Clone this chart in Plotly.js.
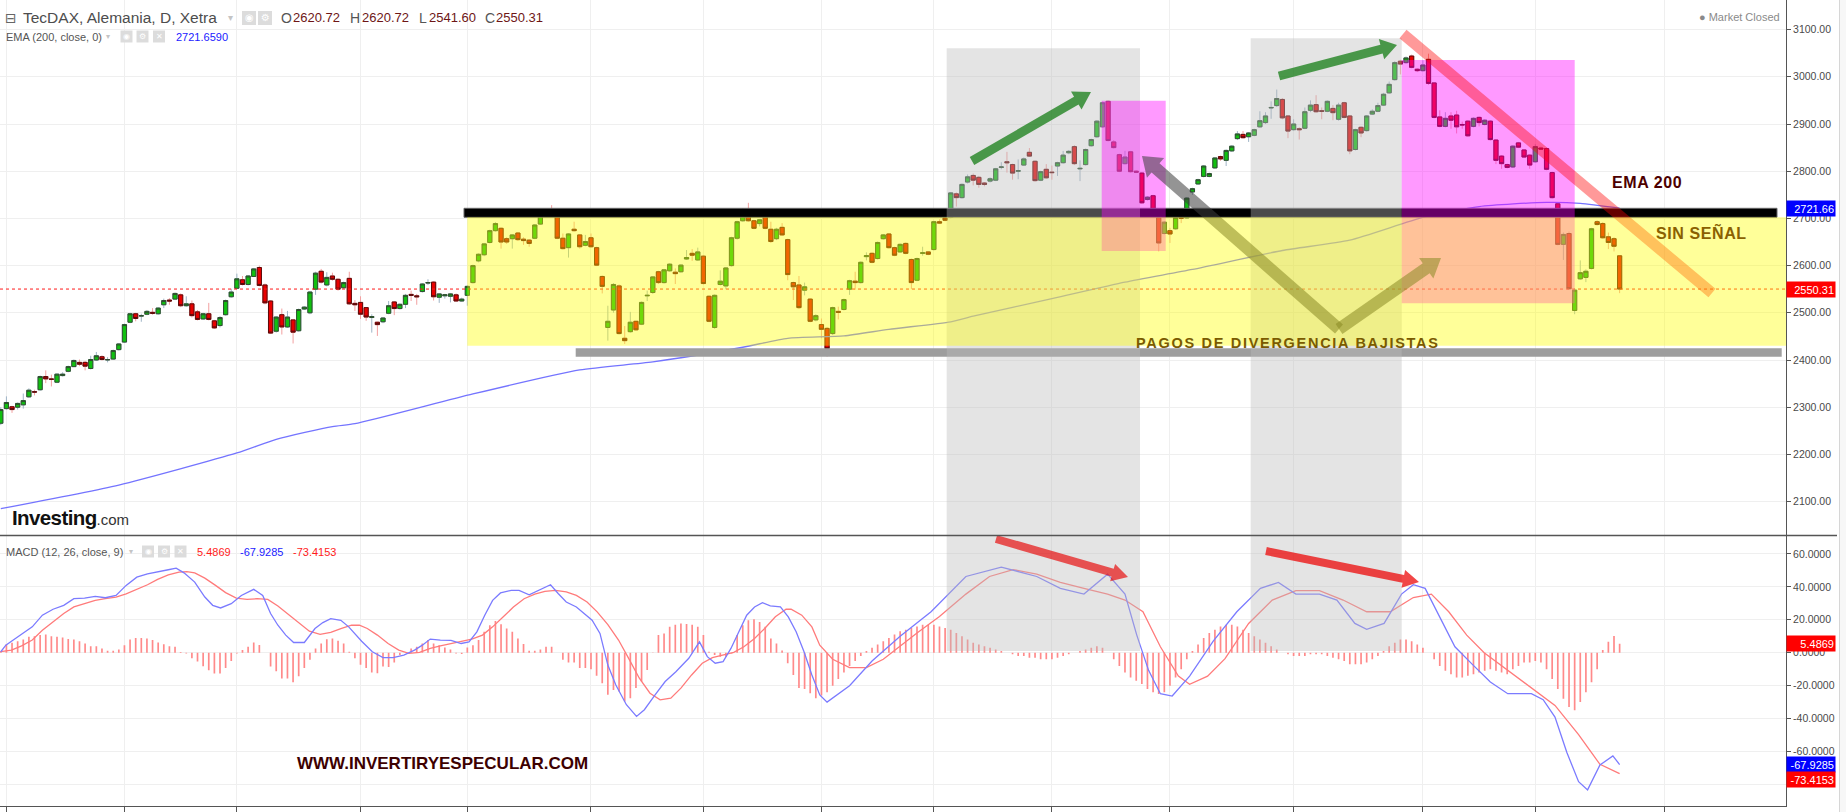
<!DOCTYPE html>
<html><head><meta charset="utf-8">
<script src="https://cdn.plot.ly/plotly-3.0.1.min.js"></script>
<style>html,body{margin:0;padding:0;background:#fff;overflow:hidden}#chart{width:1846px;height:812px}</style>
</head><body><div id="chart"></div>
<script>
// ---------------- DATA ----------------
const open = [2266,2297,2301,2300,2305,2322,2333,2337,2365,2360,
2353,2367,2376,2386,2395,2395,2382,2400,2407,2400,
2402,2422,2438,2480,2498,2493,2497,2501,2498,2517,
2527,2529,2538,2515,2519,2502,2487,2498,2483,2473,
2496,2534,2552,2570,2560,2577,2596,2559,2525,2461,
2496,2470,2485,2462,2508,2500,2550,2588,2559,2578,
2571,2553,2573,2520,2522,2511,2490,2480,2481,2499,
2523,2509,2518,2539,2536,2545,2563,2565,2533,2536,
2535,2538,2525,2537,2564,2610,2623,2649,2674,2679,
2657,2657,2669,2656,2654,2658,2688,2705,2718,2712,
2658,2638,2677,2665,2643,2659,2638,2577,2469,2506,
2557,2446,2460,2482,2476,2536,2543,2587,2564,2589,
2586,2587,2614,2626,2612,2620,2535,2469,2560,2557,
2600,2658,2695,2718,2695,2689,2704,2677,2657,2681,
2655,2564,2559,2548,2529,2485,2475,2467,2456,2503,
2507,2550,2567,2564,2619,2626,2615,2657,2667,2638,
2629,2647,2613,2569,2626,2629,2634,2693,2701,2702,
2752,2744,2777,2791,2787,2775,2779,2781,2808,2820,
2814,2800,2813,2840,2821,2781,2804,2798,2811,2818,
2839,2852,2805,2814,2854,2873,2894,2948,2862,2835,
2816,2841,2800,2796,2740,2748,2702,2668,2674,2678,
2704,2701,2756,2773,2789,2789,2807,2831,2823,2843,
2869,2878,2873,2876,2894,2903,2934,2939,2952,2917,
2888,2890,2891,2929,2941,2928,2927,2933,2910,2945,
2917,2846,2893,2886,2921,2927,2940,2966,2994,3033,
3030,3044,3016,3013,3037,2987,2915,2895,2917,2919,
2899,2906,2895,2914,2899,2906,2866,2832,2814,2809,
2860,2845,2834,2820,2849,2848,2797,2731,2645,2668,
2505,2572,2575,2594,2693,2689,2661,2657,2620.72];
const high = [2300,2323,2303,2310,2329,2340,2337,2367,2378,2369,
2372,2374,2388,2401,2401,2398,2409,2417,2410,2406,
2422,2436,2477,2500,2500,2498,2506,2510,2512,2530,
2531,2543,2541,2535,2526,2506,2500,2521,2485,2493,
2528,2551,2583,2578,2580,2595,2600,2562,2527,2493,
2509,2504,2487,2509,2514,2546,2587,2593,2586,2585,
2573,2566,2587,2527,2535,2512,2497,2481,2491,2525,
2525,2520,2540,2547,2540,2563,2571,2567,2541,2540,
2542,2541,2532,2558,2602,2626,2648,2676,2692,2681,
2660,2666,2671,2660,2656,2688,2711,2716,2728,2716,
2668,2669,2693,2667,2665,2668,2640,2579,2515,2563,
2560,2472,2502,2483,2524,2547,2578,2589,2593,2605,
2594,2603,2633,2635,2638,2622,2537,2539,2590,2597,
2661,2695,2722,2733,2697,2699,2712,2693,2680,2690,
2657,2566,2578,2564,2531,2497,2488,2470,2513,2513,
2530,2570,2587,2609,2628,2628,2651,2667,2669,2640,
2647,2649,2615,2617,2640,2631,2695,2698,2710,2756,
2755,2774,2793,2795,2790,2777,2787,2807,2819,2841,
2816,2825,2829,2849,2823,2801,2815,2812,2820,2843,
2845,2855,2823,2848,2869,2908,2947,2950,2866,2837,
2843,2843,2802,2798,2747,2750,2710,2694,2680,2706,
2710,2745,2765,2784,2813,2797,2830,2833,2846,2855,
2885,2885,2883,2890,2927,2925,2948,2973,2955,2919,
2910,2893,2935,2950,2961,2935,2950,2940,2945,2947,
2919,2890,2895,2919,2931,2945,2966,2990,3033,3036,
3043,3047,3018,3035,3049,2989,2929,2925,2925,2928,
2905,2908,2914,2916,2910,2908,2868,2834,2816,2855,
2862,2847,2836,2857,2852,2850,2799,2733,2670,2672,
2552,2611,2592,2680,2696,2692,2670,2660,2620.72];
const low = [2262,2295,2288,2295,2297,2320,2325,2335,2351,2344,
2351,2365,2374,2385,2387,2378,2380,2398,2399,2395,
2400,2420,2436,2478,2482,2481,2495,2496,2496,2510,
2517,2527,2512,2513,2490,2484,2485,2484,2466,2469,
2494,2532,2550,2558,2558,2576,2556,2518,2455,2458,
2454,2468,2435,2460,2506,2497,2538,2562,2556,2568,
2547,2551,2517,2504,2487,2483,2458,2451,2478,2497,
2495,2507,2510,2525,2517,2543,2559,2526,2521,2530,
2522,2523,2524,2515,2562,2607,2620,2647,2672,2636,
2646,2636,2652,2644,2640,2656,2686,2703,2706,2656,
2634,2617,2672,2636,2641,2638,2599,2541,2441,2500,
2454,2434,2458,2462,2474,2525,2540,2561,2562,2587,
2561,2585,2612,2610,2610,2560,2480,2466,2558,2550,
2598,2655,2693,2693,2677,2683,2677,2648,2654,2663,
2569,2527,2508,2537,2480,2482,2446,2407,2453,2486,
2505,2538,2549,2562,2611,2605,2613,2655,2636,2620,
2627,2624,2550,2567,2621,2622,2632,2688,2694,2700,
2725,2742,2774,2770,2765,2768,2776,2779,2804,2797,
2782,2783,2811,2830,2778,2779,2784,2782,2790,2816,
2836,2813,2779,2812,2852,2871,2892,2863,2848,2798,
2814,2797,2796,2731,2738,2710,2630,2666,2648,2676,
2690,2699,2750,2771,2787,2787,2805,2822,2811,2841,
2866,2869,2862,2874,2892,2900,2911,2936,2910,2870,
2886,2867,2889,2925,2924,2910,2925,2908,2907,2912,
2836,2844,2872,2884,2919,2925,2938,2964,2992,3005,
3028,3018,3010,3011,2983,2912,2893,2893,2890,2880,
2890,2873,2893,2895,2897,2865,2815,2805,2806,2807,
2849,2828,2805,2818,2845,2802,2742,2643,2612,2549,
2497,2570,2565,2592,2685,2657,2635,2630,2541.60];
const close = [2295,2310,2295,2308,2314,2336,2332,2365,2360,2359,
2370,2370,2386,2399,2391,2387,2401,2409,2401,2401,
2420,2434,2475,2498,2488,2494,2503,2499,2510,2526,
2525,2541,2515,2519,2494,2486,2498,2486,2468,2490,
2526,2544,2572,2560,2578,2593,2558,2521,2457,2491,
2470,2491,2459,2507,2512,2544,2584,2565,2575,2571,
2550,2564,2519,2517,2497,2491,2492,2475,2489,2515,
2509,2518,2537,2537,2534,2561,2564,2534,2540,2538,
2540,2525,2529,2556,2600,2624,2646,2674,2689,2650,
2650,2665,2655,2653,2647,2686,2706,2714,2708,2658,
2636,2667,2674,2640,2651,2640,2601,2556,2482,2560,
2456,2441,2480,2464,2522,2537,2576,2564,2591,2603,
2583,2601,2617,2622,2629,2562,2482,2537,2567,2595,
2659,2693,2712,2695,2679,2697,2679,2651,2677,2665,
2581,2555,2511,2555,2482,2494,2465,2424,2511,2501,
2528,2568,2564,2607,2621,2607,2649,2665,2638,2622,
2645,2626,2564,2615,2627,2624,2693,2690,2696,2754,
2744,2772,2788,2781,2772,2772,2784,2805,2809,2818,
2796,2801,2826,2832,2780,2799,2786,2797,2818,2834,
2842,2816,2806,2846,2867,2906,2945,2865,2850,2800,
2830,2799,2798,2733,2745,2719,2648,2692,2667,2702,
2700,2743,2763,2782,2811,2795,2828,2826,2844,2853,
2879,2871,2881,2888,2907,2917,2935,2954,2913,2885,
2900,2888,2926,2940,2926,2927,2948,2924,2940,2914,
2843,2888,2881,2917,2927,2939,2963,2984,3030,3027,
3040,3020,3013,3025,2986,2914,2895,2912,2908,2894,
2898,2875,2912,2903,2908,2867,2823,2816,2808,2853,
2851,2830,2813,2852,2847,2804,2744,2645,2666,2551,
2548,2585,2588,2678,2687,2659,2649,2641,2550.31];

// EMA(200) read at sample candles
const emaIdx = [0,21,42,49,59,63,84,103,116,132,140,150,158,169,173,187,200,212,228,240,253,263,275,281,288];
const emaVal = [2085,2135,2203,2232,2259,2265,2328,2379,2396,2427,2446,2451,2465,2481,2493,2530,2565,2592,2632,2654,2702,2725,2734,2732,2721.66];

// MACD line (blue) read at sample positions
const macdIdx = [0,0.9,1.9,3.7,5.6,7.4,9.3,11.2,13,14.9,16.8,18.6,20.5,22.3,24.2,26.1,27.9,29.8,31.2,32.6,34.5,36.3,37.7,39.1,41,42.8,45,46.6,48,49.3,50.7,52.1,54,55.9,57.3,58.7,60.5,61.9,64.2,66.1,68,69.8,71.7,73.6,75,76.4,78.2,80.1,81.9,83.3,84.7,86.1,87.5,88.9,90.8,92.2,94,95.9,97.8,99.2,100.6,102.4,103.8,105.2,106.6,108,109.4,111.3,113.1,114.5,116.4,118.2,120.1,122.4,124.3,125.7,127.1,128.5,129.9,131.3,132.7,134.1,135.5,136.9,138.7,140.1,141.5,142.9,144.3,145.7,
147,151,155,160,165.5,171.7,178,184.3,188.5,192.7,196.9,200,202.1,204.2,206.3,208.4,211.5,215.7,219.9,224.1,227.3,230.4,234.6,237.7,240.9,243,246.1,249.2,251.3,253.4,255.5,258.7,261.8,265,268.1,272.3,274.4,276.5,278.6,280.7,282.3,284.5,286.8,288];
const macdVal = [0.6,4.6,7.0,11.1,15.7,22.8,26.4,28.8,32.8,33.2,34.2,33.4,34.8,40.9,45.9,47.9,48.9,50.4,51.4,48.5,42.9,33.8,28.8,27.2,29.8,34.8,38.5,34.8,23.8,16.7,10.7,6.2,6.2,14.7,18.3,20.7,19.7,15.7,7.0,0.6,-3.0,-3.0,-1.4,1.6,4.6,8.3,7.7,7.5,5.6,6.6,12.7,22.8,31.8,36.3,37.9,37.9,35.2,38.3,41.3,35.8,30.8,27.8,23.8,19.7,11.7,-7.5,-19.5,-31.6,-38.7,-34.6,-25.6,-17.5,-11.5,-3.4,6.6,-2.4,-6.4,-5.4,2.6,12.7,22.8,27.8,30.4,28.4,27.8,21.8,12.7,0.6,-13.5,-25.6,
-30,-20,-5,10,24.9,46.3,52,46.3,39.1,35.6,47.7,35.6,10.7,-10.7,-24.9,-26.3,-14.2,7.1,24.9,39.1,42.7,35.6,35.6,32,17.8,14.2,17.8,35.6,41.3,39.1,24.9,3.6,-7.1,-17.8,-24.9,-24.9,-28.5,-39.1,-60.5,-78.3,-83.3,-68.2,-62.7,-67.93];

// Signal line (red) read at sample positions
const signalIdx = [0,1.9,3.7,5.6,7.4,9.3,11.2,13,14.9,16.8,18.6,20.5,22.3,24.2,26.1,27.9,29.8,31.7,33.1,34.5,36.3,38.2,40,41.9,43.8,45.6,47.5,49.3,51.2,53.1,54.9,56.8,58.7,60.5,62.4,63.8,65.2,67,68.9,70.8,72.6,74.5,76.4,78.2,80.1,81.9,83.8,85.7,87.5,89.4,91.2,93.1,95,96.8,98.7,100.6,102.4,104.3,106.1,108,109.9,111.7,113.6,115.5,117.3,119.2,121,122.9,124.8,126.6,128.5,130.4,132.2,134.1,135.9,137.8,139.7,140.6,142.5,144.3,145.7,
148,151,154,157,160,163,167,171.7,175.9,180.1,184.3,188.5,192.7,196.9,200,203.2,206.3,209.5,211.5,214.7,217.8,222,226.2,230.4,234.6,238.8,243,247.2,251.3,254.5,257.6,260.8,263.9,268.1,272.3,276.5,280.7,284.5,288];
const signalVal = [0.6,1.6,4.2,7.7,13.7,18.7,23.8,27.8,29.8,31.8,32.8,33.8,35.8,38.5,41.3,44.5,47.3,48.9,49.3,48.5,45.3,40.9,36.5,33.2,32.4,32.8,32.4,28.4,23.2,17.7,13.1,11.1,12.3,14.7,16.7,16.7,14.7,10.7,5.6,1.6,-0.4,0.2,2.6,4.2,5.6,6.6,8.3,10.7,15.7,21.8,27.8,32.8,35.6,37.3,37.9,36.9,34.8,30.8,24.8,17.1,7.7,-3.4,-15.5,-24.6,-28.6,-27.6,-21.5,-13.5,-6.4,-3.0,-1.4,0.2,3.6,8.7,14.7,21.8,26.4,26.4,22.8,15.7,4.6,
-4,-9,-9,-4,4,12,22,35.6,46.3,50.5,47.7,42.7,39.1,35.6,32,24.9,3.6,-14.2,-19.2,-14.2,-3.6,17.8,32,37.7,37.7,32,24.9,24.9,33.5,35.6,24.9,10.7,0,-10.7,-21.4,-32,-49.8,-67.8,-73.42];

// MACD histogram, one bar per candle
const histVal = [1.0,5.2,6.0,6.9,8.0,9.7,10.0,10.7,11.0,10.0,
9.7,9.3,8.3,8.0,7.0,5.6,4.0,4.0,2.6,1.2,
1.2,2.0,4.6,8.0,9.0,9.0,8.6,7.7,6.2,5.2,
4.0,3.6,0.4,-0.4,-3.4,-5.3,-8.2,-10.6,-12.6,-12.6,
-9.3,-5.0,-0.4,1.7,3.7,6.2,4.7,0.0,-8.3,-11.3,
-15.7,-15.7,-18.0,-14.3,-9.3,-4.3,2.6,5.6,8.2,8.6,
7.2,5.6,0.6,-3.4,-7.3,-9.3,-12.0,-12.4,-8.3,-8.7,
-6.0,-1.4,0.0,2.6,3.7,5.6,7.7,5.6,4.6,3.2,
2.0,-0.4,-0.8,3.2,4.6,7.7,12.7,16.7,19.3,17.3,
14.7,12.7,8.7,5.3,1.2,1.2,2.0,3.6,3.6,0.0,
-4.3,-6,-6,-9.3,-9.3,-10,-14,-18.5,-25.6,-22.6,
-23.6,-29.6,-27.6,-21.5,-17.5,-10.5,0.2,10.7,11.7,15.7,
17,17.7,17.5,17,15.7,10.7,0.6,-1.4,-2.4,-2.4,
-0.4,10.7,16.7,19.7,20.3,18.7,15.7,8.7,5.6,1.4,
-6.4,-13.5,-21.5,-22,-24.6,-27.6,-26,-24,-20,-16,
-12,-8,-5,-2,1,3,5,7,9,11,
13,14,15,16,17,17,17,16,15,14,
12,10,8,6,5,4,3,2,1,0,
-1,-2,-2,-3,-3,-4,-4,-4,-3,-2,
-1,0,1,2,3,4,3,0,-4,-8,
-12,-15,-17,-19,-22,-24,-25,-24,-20,-15,
-10,-4,1,5,9,12,14,16,17,17,
16,14,12,10,8,6,4,2,0,-1,
-2,-2,-2,-1,-1,-1,-2,-3,-4,-5,
-7,-7,-7,-6,-4,-2,1,4,6,8,
8,7,5,3,0,-4,-8,-11,-13,-15,
-15,-14,-13,-12,-11,-10,-11,-12,-13,-10,
-8,-6,-6,-5,-6,-10,-16,-22,-28,-33,
-35,-30,-24,-18,-10,1.6,6.7,10.1,5.4869];

const monthTicks = [1,22,42,64,83,105,125,146,166,187,208,230,253,273,296];
const priceTicks = [2100,2200,2300,2400,2500,2600,2700,2800,2900,3000,3100];
const priceTickText = ['2100.00','2200.00','2300.00','2400.00','2500.00','2600.00','2700.00','2800.00','2900.00','3000.00','3100.00'];
const macdTicks = [-80,-60,-40,-20,0,20,40,60];
const macdTickText = ['','-60.0000','-40.0000','-20.0000','0.0000','20.0000','40.0000','60.0000'];

const titleText = 'TecDAX, Alemania, D, Xetra';
const ohlcLabels = ['O','H','L','C'];
const ohlcValues = ['2620.72','2620.72','2541.60','2550.31'];
const emaLegend = 'EMA (200, close, 0)';
const emaLegendValue = '2721.6590';
const emaTagText = '2721.66';
const macdLegend = 'MACD (12, 26, close, 9)';
const macdLegendValues = ['5.4869','-67.9285','-73.4153'];

// ---------------- LAYOUT HELPERS ----------------
const W = 1786, H = 806;
const px = x => x / W;
const py = y => 1 - y / H;
const FONT = 'Liberation Sans, Arial, sans-serif';

function rectShape(x0, y0, x1, y1, fill, lc, lw) {
  return {type:'rect', xref:'paper', yref:'paper', x0:px(x0), x1:px(x1), y0:py(y1), y1:py(y0),
    fillcolor:fill, line:{color:lc || 'rgba(0,0,0,0)', width:lw || 0}, layer:'above'};
}
function polyShape(pts, fill) {
  const d = pts.map((p, k) => (k ? 'L' : 'M') + px(p[0]).toFixed(6) + ',' + py(p[1]).toFixed(6)).join(' ') + ' Z';
  return {type:'path', xref:'paper', yref:'paper', path:d, fillcolor:fill, line:{width:0}, layer:'above'};
}
function arrowPts(x1, y1, x2, y2, w, hl, hw) {
  const dx = x2 - x1, dy = y2 - y1, L = Math.hypot(dx, dy), ux = dx / L, uy = dy / L, nx = -uy, ny = ux;
  const bx = x2 - ux * hl, by = y2 - uy * hl;
  return [[x1 + nx*w/2, y1 + ny*w/2], [bx + nx*w/2, by + ny*w/2], [bx + nx*hw/2, by + ny*hw/2], [x2, y2],
          [bx - nx*hw/2, by - ny*hw/2], [bx - nx*w/2, by - ny*w/2], [x1 - nx*w/2, y1 - ny*w/2]];
}
function bandPts(x1, y1, x2, y2, w) {
  const dx = x2 - x1, dy = y2 - y1, L = Math.hypot(dx, dy), nx = -dy / L, ny = dx / L;
  return [[x1 + nx*w/2, y1 + ny*w/2], [x2 + nx*w/2, y2 + ny*w/2], [x2 - nx*w/2, y2 - ny*w/2], [x1 - nx*w/2, y1 - ny*w/2]];
}
function txt(x, y, text, size, color, extra) {
  return Object.assign({xref:'paper', yref:'paper', x:px(x), y:py(y), text:text, showarrow:false,
    xanchor:'left', yanchor:'middle', font:{family:FONT, size:size, color:color}}, extra || {});
}
function tag(y, text, bg) {
  return {xref:'paper', yref:'paper', x:px(1786), y:py(y), xanchor:'left', yanchor:'middle', text:text,
    showarrow:false, bgcolor:bg, font:{family:FONT, size:11, color:'#ffffff'}, width:46, height:13,
    align:'right', borderpad:1};
}

const shapes = [];
const annotations = [];

// last price dotted line
shapes.push({type:'line', xref:'paper', yref:'y', x0:0, x1:1, y0:close[close.length-1], y1:close[close.length-1],
  line:{color:'#ff1a1a', width:1, dash:'dot'}, layer:'above'});
// black resistance bar
shapes.push(rectShape(464, 208.3, 1777, 217.3, '#000000', '#666666', 1));
// grey support bar
shapes.push(rectShape(575.7, 348.3, 1781.7, 356.7, '#9e9e9e'));
// grey divergence columns
shapes.push(rectShape(946.7, 48.3, 1140, 651, 'rgba(187,187,187,0.4)'));
shapes.push(rectShape(1250.7, 38.3, 1401.7, 651, 'rgba(187,187,187,0.4)'));
// magenta boxes
shapes.push(rectShape(1101.7, 100.7, 1165.7, 251, 'rgba(255,0,255,0.4)'));
shapes.push(rectShape(1401.7, 60, 1574.7, 303.3, 'rgba(255,0,255,0.4)'));
// grey V arrows
shapes.push(polyShape(arrowPts(1339, 329, 1142, 156, 12, 18, 26), 'rgba(60,60,60,0.55)'));
shapes.push(polyShape(arrowPts(1339, 329, 1441, 258, 12, 18, 25), 'rgba(60,60,60,0.55)'));
// red diagonal trend band
shapes.push(polyShape(bandPts(1403, 34, 1712, 293, 11), 'rgba(255,0,0,0.4)'));
// yellow range box (drawn over candles)
shapes.push(rectShape(467.3, 217.3, 1786, 345.7, 'rgba(255,255,0,0.4)'));
// green arrows
shapes.push(polyShape(arrowPts(972, 161, 1091, 92, 9, 17, 21), 'rgba(0,115,0,0.68)'));
shapes.push(polyShape(arrowPts(1279, 76, 1397, 45, 9, 16, 21), 'rgba(0,115,0,0.68)'));
// red MACD arrows
shapes.push(polyShape(arrowPts(996, 539, 1128, 577, 8, 16, 18), 'rgba(230,0,0,0.65)'));
shapes.push(polyShape(arrowPts(1266, 551, 1419, 582, 8, 16, 18), 'rgba(235,0,0,0.72)'));
// pane separator and scrollbar edge
shapes.push({type:'line', xref:'paper', yref:'paper', x0:0, x1:px(1837), y0:py(535.5), y1:py(535.5), line:{color:'#555555', width:1.5}, layer:'above'});
shapes.push({type:'line', xref:'paper', yref:'paper', x0:px(1839.5), x1:px(1839.5), y0:py(812), y1:py(0), line:{color:'#d6d6d6', width:1}, layer:'above'});
shapes.push(rectShape(1840, 0, 1846, 812, '#f7f7f7'));

// header icons
function icon(x, y, s, glyph) {
  shapes.push(rectShape(x, y, x + s, y + s, '#dcdcdc'));
  annotations.push(txt(x + s/2, y + s/2, glyph, s - 4, '#ffffff', {xanchor:'center', font:{family:'DejaVu Sans, sans-serif', size:s-4, color:'#ffffff'}}));
}
icon(242, 11, 14, '◉'); icon(258, 11, 14, '⚙');
icon(120.5, 30.5, 12, '◉'); icon(136.5, 30.5, 12, '⚙'); icon(153, 30.5, 12, '✕');
icon(142, 545.5, 12, '◉'); icon(158, 545.5, 12, '⚙'); icon(174.5, 545.5, 12, '✕');

// header texts
annotations.push(txt(3, 18, '⊟', 15, '#666666', {font:{family:'DejaVu Sans, sans-serif', size:14, color:'#666666'}}));
annotations.push(txt(21, 18, titleText, 15.5, '#4d4d4d'));
annotations.push(txt(226, 18, '▾', 11, '#c4c4c4', {font:{family:'DejaVu Sans, sans-serif', size:10, color:'#c4c4c4'}}));
const ohlcLX = [278.6, 348, 417, 483];
const ohlcVX = [290.5, 359.7, 427, 494];
for (let k = 0; k < 4; k++) {
  annotations.push(txt(ohlcLX[k], 18, ohlcLabels[k], 14, '#555555'));
  annotations.push(txt(ohlcVX[k], 18, ohlcValues[k], 13, '#6e1616'));
}
annotations.push(txt(4, 36.5, emaLegend, 11, '#555555'));
annotations.push(txt(104, 36.5, '▾', 9, '#c4c4c4', {font:{family:'DejaVu Sans, sans-serif', size:8, color:'#c4c4c4'}}));
annotations.push(txt(174, 36.5, emaLegendValue, 11, '#1a1aff'));
annotations.push(txt(4, 551.7, macdLegend, 11, '#555555'));
annotations.push(txt(127, 551.7, '▾', 9, '#c4c4c4', {font:{family:'DejaVu Sans, sans-serif', size:8, color:'#c4c4c4'}}));
annotations.push(txt(195, 552, macdLegendValues[0], 11, '#ff1a1a'));
annotations.push(txt(238, 552, macdLegendValues[1], 11, '#1a1aff'));
annotations.push(txt(290.5, 552, macdLegendValues[2], 11, '#ff1a1a'));
annotations.push(txt(1782, 17, '● Market Closed', 11, '#8a8a8a', {xanchor:'right'}));

// logo
annotations.push(txt(10, 517, '<b><span style="letter-spacing:-0.6px">Investing</span></b><span style="font-size:15px;color:#333">.com</span>', 20.5, '#111111'));

// overlay labels
annotations.push(txt(1610, 183, '<b><span style="letter-spacing:0.6px">EMA 200</span></b>', 16, '#4d0000'));
annotations.push(txt(1654, 232, '<b><span style="letter-spacing:0.6px">SIN SEÑAL</span></b>', 16, '#8a6000'));
annotations.push(txt(1134, 342.6, '<b><span style="letter-spacing:1.7px">PAGOS DE DIVERGENCIA BAJISTAS</span></b>', 14.5, '#7a5a00'));
annotations.push(txt(294.5, 763.5, '<b>WWW.INVERTIRYESPECULAR.COM</b>', 17, '#3d0000'));

// price / value tags on the right axis
annotations.push(tag(208.6, emaTagText, '#0000ff'));
annotations.push(tag(289, ohlcValues[3], '#ff0000'));
annotations.push(tag(643.5, macdLegendValues[0], '#ff0000'));
annotations.push(tag(764.3, macdLegendValues[1], '#0000ff'));
annotations.push(tag(779.3, macdLegendValues[2], '#ff0000'));

// ---------------- TRACES ----------------
const idx = close.map((_, i) => i);
const bodyHigh = open.map((o, i) => Math.max(o, close[i]));
const bodyLow = open.map((o, i) => Math.min(o, close[i]));

const traces = [
  {type:'bar', x:idx, y:histVal, xaxis:'x', yaxis:'y2', width:0.3, marker:{color:'#ff8a8a', line:{width:0}}, hoverinfo:'skip'},
  {type:'scatter', mode:'lines', x:signalIdx, y:signalVal, xaxis:'x', yaxis:'y2', line:{color:'#ff7b7b', width:1.3}, hoverinfo:'skip'},
  {type:'scatter', mode:'lines', x:macdIdx, y:macdVal, xaxis:'x', yaxis:'y2', line:{color:'#7b7bff', width:1.3}, hoverinfo:'skip'},
  {type:'scatter', mode:'lines', x:emaIdx, y:emaVal, xaxis:'x', yaxis:'y', line:{color:'#7474ff', width:1.3, shape:'spline', smoothing:0.6}, hoverinfo:'skip'},
  {type:'candlestick', x:idx, open:open, high:high, low:low, close:close, xaxis:'x', yaxis:'y', whiskerwidth:0,
    increasing:{line:{color:'#9fb4c6', width:1}, fillcolor:'#9fb4c6'},
    decreasing:{line:{color:'#f2a0a0', width:1}, fillcolor:'#f2a0a0'}, hoverinfo:'skip'},
  {type:'candlestick', x:idx, open:open, high:bodyHigh, low:bodyLow, close:close, xaxis:'x', yaxis:'y', whiskerwidth:0,
    increasing:{line:{color:'#2f4f2f', width:1}, fillcolor:'#10c010'},
    decreasing:{line:{color:'#5a0a0a', width:1}, fillcolor:'#e80000'}, hoverinfo:'skip'}
];

const gridC = '#efefef';
const layout = {
  width:1846, height:812, margin:{l:0, r:60, t:0, b:6, pad:0},
  paper_bgcolor:'#ffffff', plot_bgcolor:'#ffffff', showlegend:false,
  boxgap:0.25, boxgroupgap:0,
  xaxis:{range:[-0.14, 317.6], anchor:'y2', tickvals:monthTicks, showticklabels:false, showgrid:true,
    gridcolor:gridC, gridwidth:1, zeroline:false, showline:true, linecolor:'#555555', linewidth:1,
    ticks:'outside', ticklen:5, tickcolor:'#555555', rangeslider:{visible:false}, fixedrange:true, automargin:false},
  yaxis:{domain:[1 - 535.5/806, 1], range:[2028.2, 3162.7], side:'right', anchor:'x', tickvals:priceTicks,
    ticktext:priceTickText, showgrid:true, gridcolor:gridC, zeroline:false, showline:true, linecolor:'#555555',
    ticks:'outside', ticklen:4, tickcolor:'#555555', tickfont:{family:FONT, size:10.5, color:'#4a4a4a'},
    fixedrange:true, automargin:false},
  yaxis2:{domain:[0, 1 - 535.5/806], range:[-93.1, 71.2], side:'right', anchor:'x', tickvals:macdTicks,
    ticktext:macdTickText, showgrid:true, gridcolor:gridC, zeroline:false, showline:true, linecolor:'#555555',
    ticks:'outside', ticklen:4, tickcolor:'#555555', tickfont:{family:FONT, size:10.5, color:'#4a4a4a'},
    fixedrange:true, automargin:false},
  shapes:shapes, annotations:annotations
};

Plotly.newPlot('chart', traces, layout, {staticPlot:true, displayModeBar:false});
</script>
</body></html>
